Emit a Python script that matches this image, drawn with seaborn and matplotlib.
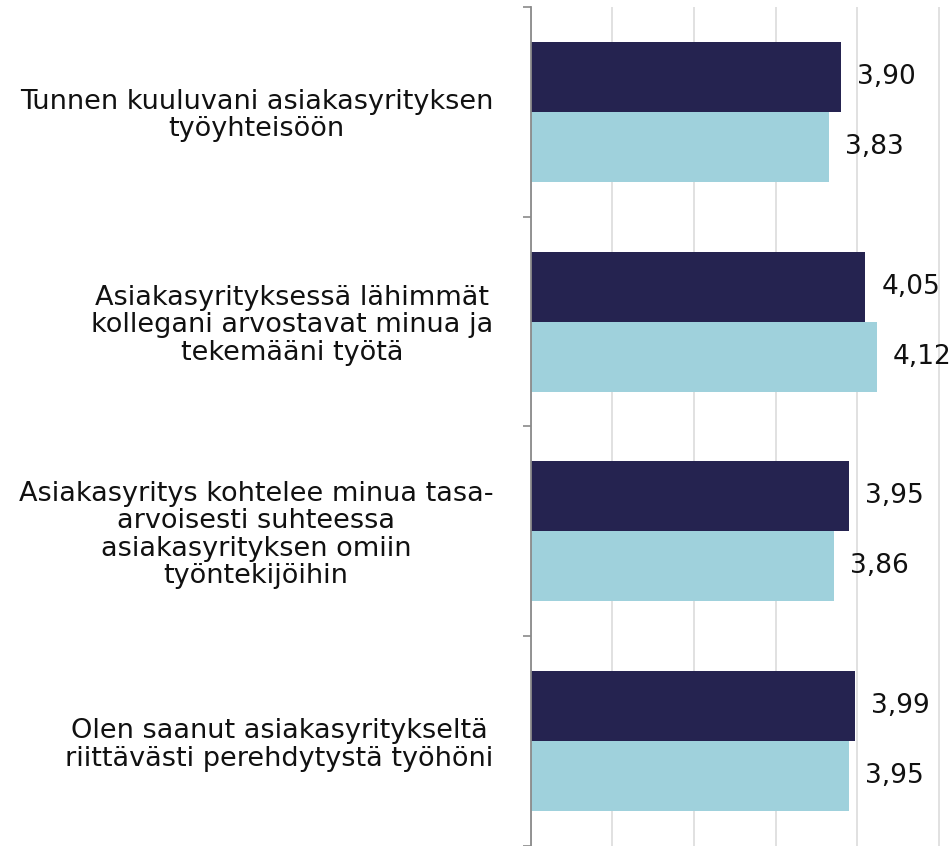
import numpy as np
import pandas as pd
import matplotlib
matplotlib.use("Agg")
import matplotlib.pyplot as plt
import seaborn as sns

# data
categories = [
    "Tunnen kuuluvani asiakasyrityksen\ntyöyhteisöön",
    "Asiakasyrityksessä lähimmät\nkollegani arvostavat minua ja\ntekemääni työtä",
    "Asiakasyritys kohtelee minua tasa-\narvoisesti suhteessa\nasiakasyrityksen omiin\ntyöntekijöihin",
    "Olen saanut asiakasyritykseltä\nriittävästi perehdytystä työhöni",
]
series_names = ["Sarja 1", "Sarja 2"]
values_dark = [3.90, 4.05, 3.95, 3.99]
values_light = [3.83, 4.12, 3.86, 3.95]

df = pd.DataFrame({
    "kysymys": categories * 2,
    "sarja": [series_names[0]] * 4 + [series_names[1]] * 4,
    "arvo": values_dark + values_light,
})

sns.set_theme(style="white")
plt.rcParams["font.family"] = ["DejaVu Sans"]

fig = plt.figure(figsize=(9.52, 8.46), dpi=100)
ax = fig.add_axes([530.7 / 952, 0.0, (952 - 530.7) / 952, (846 - 7) / 846])

sns.barplot(data=df, y="kysymys", x="arvo", hue="sarja", orient="h",
            palette=["#252350", "#9fd1dc"], width=2 / 3, gap=0,
            saturation=1, legend=False, linewidth=0, ax=ax)

ax.set_xlim(2, 2 + (952 - 530.7) / 163.2)
ax.set_ylim(3.5, -0.5)
ax.set_xticks(np.arange(2.0, 4.51, 0.5))
ax.xaxis.grid(True, color="#dcdcdc", linewidth=1.2)
ax.set_axisbelow(True)
ax.tick_params(axis="x", length=0, labelbottom=False)
ax.set_xlabel("")
ax.set_ylabel("")

for side in ["top", "right", "bottom"]:
    ax.spines[side].set_visible(False)
ax.spines["left"].set_color("#8a8a8a")
ax.spines["left"].set_linewidth(1.3)

ax.set_yticks(range(len(categories)))
ax.set_yticklabels(categories, fontsize=19.5, color="#111111",
                   multialignment="center", linespacing=1.07)
ax.set_yticks(np.arange(-0.5, 3.6, 1.0), minor=True)
ax.tick_params(axis="y", which="major", left=True, length=0, pad=27)
ax.tick_params(axis="y", which="minor", left=True, length=6, width=1.2,
               color="#8a8a8a")

for cont in ax.containers:
    ax.bar_label(cont, labels=[f"{v:.2f}".replace(".", ",") for v in cont.datavalues],
                 padding=11.5, fontsize=19, color="#111111", clip_on=False)

fig.savefig("out.png", dpi=100)
